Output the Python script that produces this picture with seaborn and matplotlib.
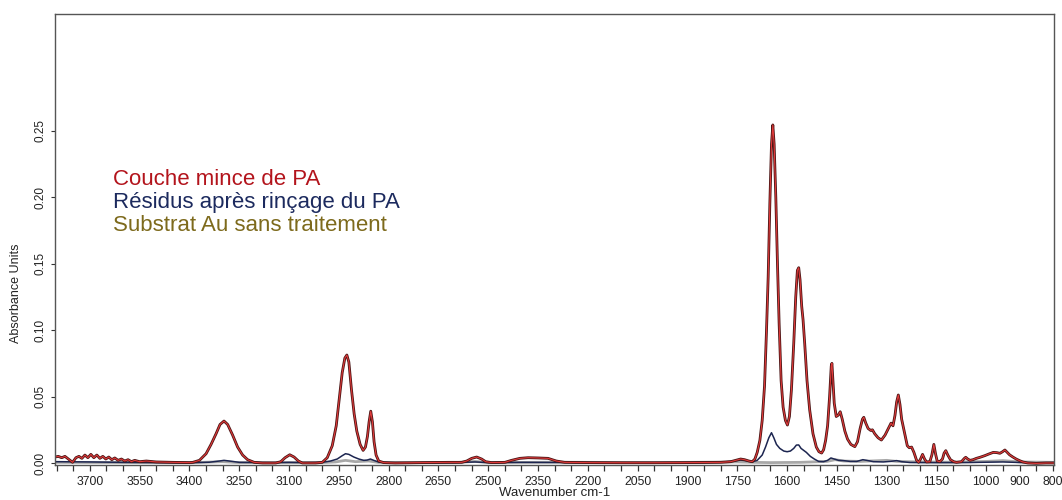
import matplotlib
matplotlib.use("Agg")
import matplotlib.pyplot as plt
import matplotlib.patheffects as pe
from matplotlib.ticker import FixedLocator, MultipleLocator
import pandas as pd
import seaborn as sns

# ---- data (wavenumber cm-1, absorbance) ----
pa_wn = [3805, 3795, 3785, 3775, 3765, 3752, 3742, 3733, 3724, 3715, 3706, 3697,
         3688, 3679, 3670, 3661, 3652, 3643, 3634, 3625, 3615, 3605, 3595, 3585,
         3575, 3565, 3550, 3530, 3500, 3450, 3400,
         3390, 3370, 3350, 3335, 3320, 3308, 3296, 3285, 3270, 3255, 3240, 3225, 3205, 3180,
         3140, 3125, 3112, 3098, 3085, 3072, 3060, 3020,
         3000, 2985, 2970, 2958, 2948, 2940, 2932, 2926, 2920, 2912, 2904, 2896, 2886,
         2877, 2870, 2864, 2859, 2854, 2849, 2844, 2838, 2830, 2815, 2780, 2700, 2620,
         2580, 2565, 2550, 2535, 2520, 2508, 2490, 2450, 2430, 2405, 2380, 2350, 2320,
         2295, 2270, 2200, 2100, 2000, 1900, 1800, 1770, 1755, 1740, 1728, 1715, 1705, 1697,
         1690, 1682, 1675, 1668, 1662, 1657, 1652, 1647, 1643, 1639, 1634, 1629, 1624,
         1618, 1612, 1605, 1599, 1593, 1587, 1580, 1574, 1569, 1565, 1561, 1556, 1552,
         1547, 1540, 1532, 1522, 1512, 1504, 1496, 1490, 1484, 1478, 1472, 1467, 1465,
         1462, 1458, 1452, 1446, 1440, 1434, 1426, 1418, 1408, 1396, 1388, 1380, 1373,
         1369, 1363, 1356, 1348, 1343, 1336, 1326, 1316, 1305, 1295, 1287, 1281, 1275,
         1270, 1265, 1260, 1255, 1250, 1244, 1238, 1232, 1225, 1218, 1210, 1204, 1198,
         1192, 1186, 1180, 1170, 1164, 1158, 1153, 1148, 1140, 1132, 1127, 1122, 1116,
         1108, 1098, 1090, 1075, 1066, 1062, 1056, 1049, 1040, 1030, 1019, 1005, 992,
         979, 968, 959, 951, 944, 937, 930, 920, 910, 900, 890, 875, 850, 820, 796]
pa_abs = [0.0045, 0.005, 0.004, 0.005, 0.003, 0.0005, 0.004, 0.005, 0.0035, 0.006, 0.004, 0.0065,
          0.004, 0.006, 0.0035, 0.005, 0.003, 0.0045, 0.0025, 0.0038, 0.002, 0.003, 0.0015, 0.0025,
          0.001, 0.002, 0.001, 0.0015, 0.0008, 0.0005, 0.0003,
          0.0005, 0.002, 0.007, 0.014, 0.022, 0.029, 0.0316, 0.029, 0.021, 0.012, 0.006, 0.0025, 0.0005, 0.0,
          0.0, 0.001, 0.004, 0.0062, 0.0045, 0.0015, 0.0, 0.0,
          0.0005, 0.004, 0.013, 0.028, 0.050, 0.068, 0.079, 0.0813, 0.076, 0.055, 0.037, 0.024, 0.014,
          0.0095, 0.012, 0.020, 0.031, 0.039, 0.031, 0.016, 0.006, 0.0015, 0.0003, 0.0, 0.0003, 0.0005,
          0.0005, 0.0015, 0.0035, 0.0045, 0.003, 0.001, 0.0003, 0.0005, 0.002, 0.0035, 0.004, 0.0038, 0.0035,
          0.0015, 0.0005, 0.0003, 0.0002, 0.0002, 0.0003, 0.0005, 0.001, 0.002, 0.003, 0.0025, 0.0015, 0.001, 0.003,
          0.008, 0.017, 0.032, 0.058, 0.100, 0.140, 0.195, 0.240, 0.2545, 0.240, 0.200, 0.150, 0.105,
          0.062, 0.042, 0.032, 0.0286, 0.035, 0.055, 0.090, 0.125, 0.145, 0.147, 0.138, 0.118, 0.108,
          0.090, 0.062, 0.040, 0.022, 0.012, 0.0085, 0.0075, 0.010, 0.017, 0.028, 0.050, 0.073, 0.075,
          0.062, 0.045, 0.035, 0.036, 0.0386, 0.033, 0.024, 0.018, 0.014, 0.0123, 0.016, 0.026, 0.033,
          0.0344, 0.030, 0.026, 0.0245, 0.025, 0.022, 0.019, 0.0173, 0.021, 0.026, 0.030, 0.028, 0.036,
          0.046, 0.0512, 0.044, 0.033, 0.027, 0.020, 0.013, 0.0115, 0.012, 0.008, 0.002, 0.0005, 0.003,
          0.0065, 0.003, 0.0008, 0.001, 0.006, 0.014, 0.007, 0.0015, 0.001, 0.003, 0.0075, 0.0093, 0.006,
          0.0025, 0.001, 0.0005, 0.001, 0.0035, 0.0043, 0.003, 0.002, 0.0025, 0.0035, 0.0043, 0.0055, 0.0068,
          0.008, 0.0078, 0.0073, 0.0085, 0.0098, 0.008, 0.0062, 0.0045, 0.003, 0.0018, 0.0008, 0.0, -0.0003, 0.0, 0.0]

res_wn = [3805, 3700, 3600, 3500, 3400, 3340, 3310, 3296, 3280, 3250, 3150, 3100, 3050,
          3000, 2975, 2955, 2940, 2930, 2920, 2905, 2890, 2875, 2865, 2855, 2845, 2830,
          2800, 2700, 2600, 2540, 2500, 2400, 2300, 2100, 1900, 1800, 1760, 1740, 1725,
          1705, 1690, 1675, 1665, 1655, 1647, 1640, 1632, 1622, 1610, 1600, 1590, 1580,
          1572, 1565, 1558, 1550, 1542, 1530, 1518, 1505, 1490, 1478, 1468, 1458, 1445,
          1430, 1410, 1390, 1372, 1360, 1340, 1310, 1290, 1270, 1255, 1230, 1150, 1050,
          950, 900, 850, 796]
res_abs = [0.001, 0.0008, 0.0005, 0.0003, 0.0002, 0.0006, 0.0015, 0.002, 0.0015, 0.0005, 0.0003, 0.0005, 0.0003,
           0.0005, 0.0015, 0.003, 0.0055, 0.007, 0.0065, 0.0045, 0.003, 0.002, 0.0022, 0.003, 0.002, 0.0007,
           0.0003, 0.0002, 0.0003, 0.0008, 0.0003, 0.0005, 0.0004, 0.0002, 0.0003, 0.0006, 0.0015, 0.0022, 0.0018,
           0.0008, 0.002, 0.006, 0.012, 0.019, 0.0228, 0.019, 0.014, 0.011, 0.009, 0.0085, 0.009, 0.011,
           0.0135, 0.0136, 0.011, 0.0095, 0.008, 0.005, 0.003, 0.0012, 0.001, 0.002, 0.0038, 0.003, 0.002,
           0.0018, 0.0012, 0.0012, 0.0025, 0.002, 0.001, 0.0008, 0.0012, 0.0018, 0.001, 0.0004, 0.0003, 0.0004,
           0.0008, 0.0004, 0.0002, 0.0003]

au_wn = [3805, 3600, 3400, 3300, 3250, 3000, 2960, 2930, 2900, 2860, 2830, 2600, 2540,
         2500, 2300, 2000, 1750, 1700, 1650, 1560, 1480, 1455, 1430, 1380, 1300, 1270,
         1200, 1100, 1000, 950, 900, 796]
au_abs = [0.0005, 0.0003, 0.0002, 0.001, 0.0003, 0.0003, 0.0008, 0.002, 0.001, 0.0015, 0.0004, 0.0003, 0.0012,
          0.0003, 0.0006, 0.0003, 0.0008, 0.0005, 0.0003, 0.0005, 0.0012, 0.0025, 0.0015, 0.0012, 0.002, 0.0012,
          0.0008, 0.0006, 0.0012, 0.0018, 0.0008, 0.0005]

noms = ["Couche mince de PA", "Résidus après rinçage du PA", "Substrat Au sans traitement"]
couleurs_texte = ["#b3141c", "#1c2a5e", "#7d6a1c"]

x_labels = [3700, 3550, 3400, 3250, 3100, 2950, 2800, 2650, 2500, 2350, 2200,
            2050, 1900, 1750, 1600, 1450, 1300, 1150, 1000, 900, 800]
y_labels = [0.00, 0.05, 0.10, 0.15, 0.20, 0.25]

df_pa = pd.DataFrame({"wn": pa_wn, "A": pa_abs})
df_res = pd.DataFrame({"wn": res_wn, "A": res_abs})
df_au = pd.DataFrame({"wn": au_wn, "A": au_abs})

# ---- figure ----
sns.set_theme(style="white")
plt.rcParams["font.family"] = ["Liberation Sans", "DejaVu Sans"]

fig = plt.figure(figsize=(10.62, 5.0), dpi=100)
ax = fig.add_axes([0.0518, 0.07, 0.9407, 0.902])

sns.lineplot(data=df_au, x="wn", y="A", ax=ax, color="#a8a8a8", linewidth=2.0,
             estimator=None)
sns.lineplot(data=df_res, x="wn", y="A", ax=ax, color="#1c2550", linewidth=1.1,
             estimator=None)
sns.lineplot(data=df_pa, x="wn", y="A", ax=ax, color="#e03a3a", linewidth=0.8,
             estimator=None,
             path_effects=[pe.Stroke(linewidth=2.0, foreground="#4a1414"), pe.Normal()])

ax.set_xlim(3805, 796)
ax.set_ylim(-0.0015, 0.338)

ax.xaxis.set_major_locator(FixedLocator(x_labels))
ax.xaxis.set_minor_locator(MultipleLocator(50))
ax.set_xticklabels([str(v) for v in x_labels])
ax.yaxis.set_major_locator(FixedLocator(y_labels))
ax.set_yticklabels([f"{v:.2f}" for v in y_labels], rotation=90, va="center")

ax.tick_params(axis="x", which="both", direction="out", length=4.5, width=0.9,
               color="#333333", labelsize=8.8, labelcolor="#222222", pad=3.5, bottom=True)
ax.tick_params(axis="y", which="major", direction="out", length=3, width=0.8,
               color="#333333", labelsize=8.5, labelcolor="#222222", pad=3, left=True)

for s in ax.spines.values():
    s.set_color("#555555")
    s.set_linewidth(1.0)

ax.set_xlabel("Wavenumber cm-1", fontsize=9.5, color="#222222", labelpad=-0.5)
ax.set_ylabel("Absorbance Units", fontsize=9, color="#222222")
ax.yaxis.set_label_coords(-0.033, 0.38)

# legend written as coloured text lines
for i, (nom, c) in enumerate(zip(noms, couleurs_texte)):
    fig.text(0.1064, 0.63 - i * 0.0457, nom, color=c, fontsize=16,
             va="baseline", ha="left")

fig.savefig("out.png", dpi=100)
